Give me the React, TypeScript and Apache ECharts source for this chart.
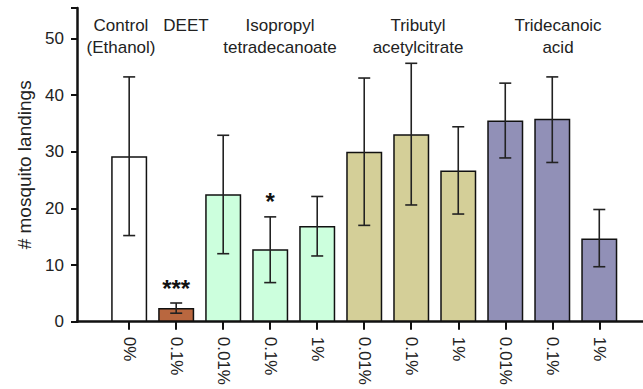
import React, { useEffect, useRef } from "react";
import * as echarts from "echarts";

const doses = ["0%", "0.1%", "0.01%", "0.1%", "1%", "0.01%", "0.1%", "1%", "0.01%", "0.1%", "1%"];
const means = [29.2, 2.4, 22.5, 12.8, 16.9, 30.0, 33.1, 26.7, 35.5, 35.8, 14.7];
const errLow = [15.2, 1.5, 12.0, 6.9, 11.6, 17.0, 20.6, 19.0, 28.9, 28.1, 9.7];
const errHigh = [43.2, 3.3, 32.9, 18.5, 22.1, 43.0, 45.6, 34.4, 42.1, 43.2, 19.8];
const signif = ["", "***", "", "*", "", "", "", "", "", "", ""];
const barColors = ["#ffffff", "#b9673f", "#ccffdd", "#ccffdd", "#ccffdd", "#d4cf98", "#d4cf98", "#d4cf98", "#9190b7", "#9190b7", "#9190b7"];
const groupLabels = ["Control\n(Ethanol)", "DEET", "Isopropyl\ntetradecanoate", "Tributyl\nacetylcitrate", "Tridecanoic\nacid"];
const yTicks = [0, 10, 20, 30, 40, 50];

const FONT = "'Liberation Sans', Arial, sans-serif";

export default function App() {
  const ref = useRef<HTMLDivElement>(null);
  useEffect(() => {
    if (!ref.current) return;
    const chart = echarts.init(ref.current, null, { renderer: "svg" });
    const tickIdx = doses.map((_, i) => i);
    const groupX = [121, 186, 280, 418, 558];
    const option: any = {
      animation: false,
      backgroundColor: "#ffffff",
      grid: { left: 77, right: 0, top: 8, bottom: 67.3, containLabel: false },
      xAxis: {
        type: "value",
        min: -1.11,
        max: 10.93,
        splitLine: { show: false },
        axisLine: { show: true, onZero: false, lineStyle: { color: "#111", width: 2.5 } },
        axisTick: { show: true, customValues: tickIdx, length: 8, lineStyle: { color: "#111", width: 2 } },
        axisLabel: {
          show: true,
          customValues: tickIdx,
          rotate: -90,
          margin: 15,
          fontSize: 17,
          fontFamily: FONT,
          color: "#222",
          formatter: (v: number) => doses[Math.round(v)] ?? "",
        },
      },
      yAxis: {
        type: "value",
        min: 0,
        max: 55.36,
        interval: 10,
        splitLine: { show: false },
        name: "# mosquito landings",
        nameLocation: "middle",
        nameRotate: 90,
        nameGap: 42,
        nameTextStyle: { fontSize: 19, fontFamily: FONT, color: "#222" },
        axisLine: { show: true, onZero: false, lineStyle: { color: "#111", width: 2.5 } },
        axisTick: { show: true, length: 6, lineStyle: { color: "#111", width: 2 } },
        axisLabel: {
          fontSize: 17,
          fontFamily: FONT,
          color: "#222",
          margin: 13,
          formatter: (v: number) => (yTicks.includes(v) ? String(v) : ""),
        },
      },
      graphic: groupLabels.map((t, i) => ({
        type: "text",
        x: groupX[i],
        y: 14,
        style: {
          text: t,
          fontSize: 17,
          fontFamily: FONT,
          fill: "#222",
          align: "center",
          verticalAlign: "top",
          lineHeight: 22,
        },
      })),
      series: [
        {
          type: "bar",
          barWidth: 36,
          data: means.map((v, i) => ({
            value: [i, v],
            itemStyle: { color: barColors[i], borderColor: "#111", borderWidth: 1.5 },
          })),
        },
        {
          type: "custom",
          data: errLow.map((lo, i) => [i, lo, errHigh[i]]),
          renderItem: (params: any, api: any) => {
            const x = api.value(0);
            const lo = api.value(1);
            const hi = api.value(2);
            const pHi = api.coord([x, hi]);
            const pLo = api.coord([x, lo]);
            const cap = 6;
            const ls = { stroke: "#222", lineWidth: 1.6 };
            const children: any[] = [
              { type: "line", shape: { x1: pHi[0], y1: pHi[1], x2: pLo[0], y2: pLo[1] }, style: ls },
              { type: "line", shape: { x1: pHi[0] - cap, y1: pHi[1], x2: pHi[0] + cap, y2: pHi[1] }, style: ls },
              { type: "line", shape: { x1: pLo[0] - cap, y1: pLo[1], x2: pLo[0] + cap, y2: pLo[1] }, style: ls },
            ];
            const s = signif[params.dataIndex];
            if (s) {
              children.push({
                type: "text",
                x: pHi[0],
                y: pHi[1] - 3,
                style: {
                  text: s,
                  fontSize: 24,
                  fontWeight: "bold",
                  fontFamily: FONT,
                  fill: "#111",
                  align: "center",
                  verticalAlign: "bottom",
                },
              });
            }
            return { type: "group", children };
          },
          z: 5,
        },
      ],
    };
    chart.setOption(option);
    return () => chart.dispose();
  }, []);
  return <div ref={ref} style={{ width: 643, height: 389, position: "absolute", left: 0, top: 0 }} />;
}
